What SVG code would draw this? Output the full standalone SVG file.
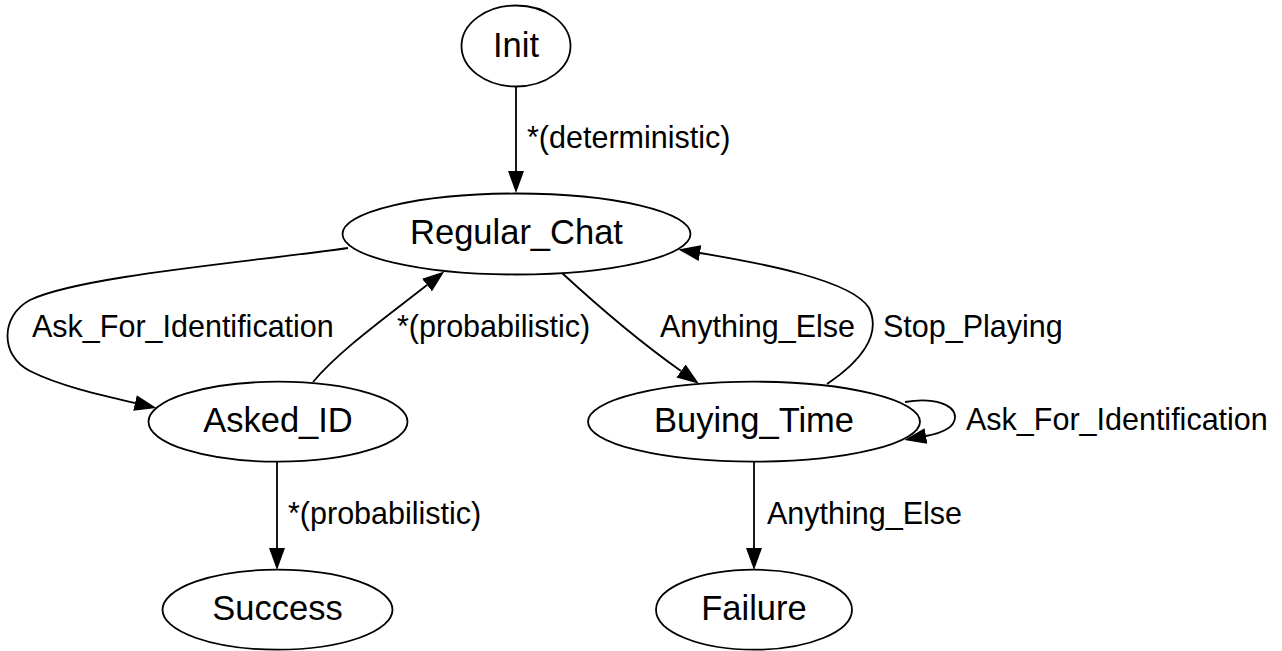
<svg xmlns="http://www.w3.org/2000/svg" width="1282" height="651" viewBox="0 0 1282 651">
<style>
.node ellipse{fill:#fff;stroke:#000;stroke-width:1.8}
.node text{font-family:"Liberation Sans",Arial,sans-serif;font-size:34.5px;text-anchor:middle;fill:#000}
.edge path{fill:none;stroke:#000;stroke-width:1.8}
.lbl{font-family:"Liberation Sans",Arial,sans-serif;font-size:30.5px;fill:#000}
</style>
<defs>
<marker id="arr" viewBox="0 0 22 16" refX="0" refY="8" markerWidth="22" markerHeight="16" markerUnits="userSpaceOnUse" orient="auto">
<path d="M0,0 L22,8 L0,16 z" fill="#000"/>
</marker>
</defs>
<rect width="1282" height="651" fill="#fff"/>
<g id="edges" class="edge">
<path d="M516,86 L516,171" marker-end="url(#arr)"/>
<text class="lbl" x="527" y="148">*(deterministic)</text>
<path d="M348,248 C250,262 80,276 30,300 C0,316 0,356 30,371 C60,386 100,395 135,403" marker-end="url(#arr)"/>
<text class="lbl" x="32" y="337">Ask_For_Identification</text>
<path d="M313,382 C340,350 385,318 427,285" marker-end="url(#arr)"/>
<text class="lbl" x="397" y="337">*(probabilistic)</text>
<path d="M562,273 C600,308 640,342 681,371" marker-end="url(#arr)"/>
<text class="lbl" x="660" y="337">Anything_Else</text>
<path d="M827,384 C860,362 882,335 869,308 C852,280 760,263 700,253" marker-end="url(#arr)"/>
<text class="lbl" x="883" y="337">Stop_Playing</text>
<path d="M905,402 C935,397 955,405 955,417 C955,428 942,433 926,436" marker-end="url(#arr)"/>
<text class="lbl" x="966" y="430">Ask_For_Identification</text>
<path d="M277,462 L277,548" marker-end="url(#arr)"/>
<text class="lbl" x="288" y="524">*(probabilistic)</text>
<path d="M754,462 L754,548" marker-end="url(#arr)"/>
<text class="lbl" x="767" y="524">Anything_Else</text>
</g>
<g id="Init" class="node"><ellipse cx="516" cy="46" rx="54.5" ry="40.5"/><text x="516" y="57">Init</text></g>
<g id="Regular_Chat" class="node"><ellipse cx="516.5" cy="234" rx="174" ry="40.5"/><text x="516.5" y="244">Regular_Chat</text></g>
<g id="Asked_ID" class="node"><ellipse cx="278" cy="421.7" rx="129.5" ry="40"/><text x="278" y="432">Asked_ID</text></g>
<g id="Buying_Time" class="node"><ellipse cx="754" cy="421.7" rx="166" ry="40"/><text x="754" y="432">Buying_Time</text></g>
<g id="Success" class="node"><ellipse cx="277.5" cy="609.7" rx="115" ry="40"/><text x="277.5" y="620">Success</text></g>
<g id="Failure" class="node"><ellipse cx="754" cy="609.7" rx="98" ry="40"/><text x="754" y="620">Failure</text></g>
</svg>
